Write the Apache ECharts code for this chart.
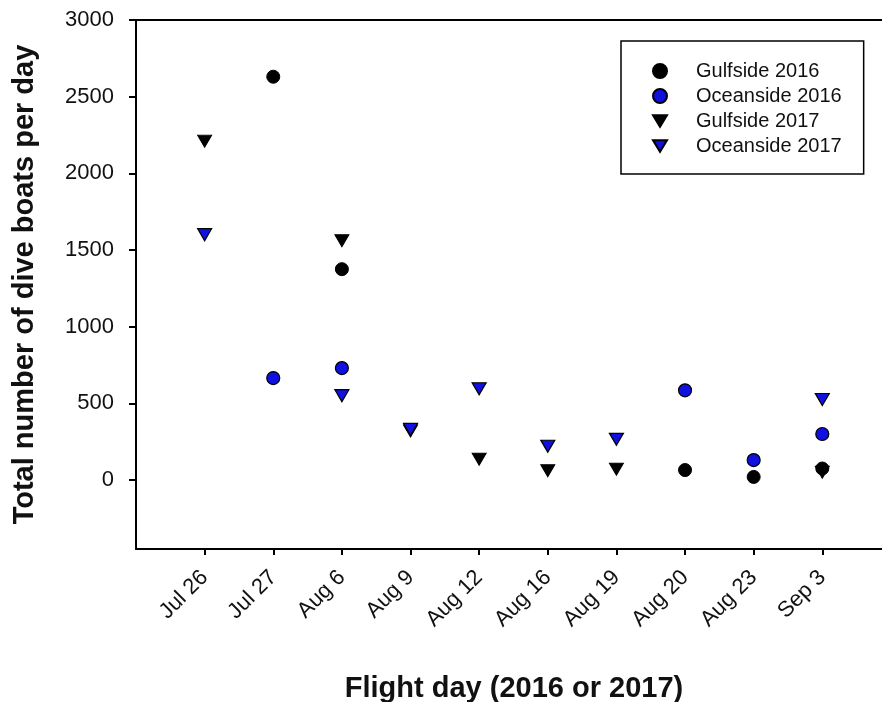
<!DOCTYPE html>
<html>
<head>
<meta charset="utf-8">
<script src="https://cdn.jsdelivr.net/npm/echarts@6/dist/echarts.min.js"></script>
<style>html,body{margin:0;padding:0;background:#fff;}#c{width:882px;height:702px;}</style>
</head>
<body>
<div id="c"></div>
<script>
const categories = ['Jul 26','Jul 27','Aug 6','Aug 9','Aug 12','Aug 16','Aug 19','Aug 20','Aug 23','Sep 3'];
const gulfside2016  = [null, 2630, 1375, null, null, null, null, 65, 20, 75];
const oceanside2016 = [null, 665, 730, null, null, null, null, 585, 130, 300];
const gulfside2017  = [2210, null, 1560, 320, 135, 60, 70, null, null, 50];
const oceanside2017 = [1600, null, 550, 330, 595, 220, 265, null, null, 525];
const yTicks = [0, 500, 1000, 1500, 2000, 2500, 3000];

function pts(arr){
  const out = [];
  arr.forEach((v,i)=>{ if(v!==null) out.push([i, v]); });
  return out;
}
const FONT = 'Liberation Sans, Arial, sans-serif';
const DOWN = 'path://M0,0 L12,0 L6,10 Z';
const BLUE = '#1010e0';
const catIdx = categories.map((c,i)=>i);

const chart = echarts.init(document.getElementById('c'), null, {renderer:'canvas'});
chart.setOption({
  backgroundColor: '#fff',
  animation: false,
  grid: {left:136, top:20, right:0, bottom:153, show:false, containLabel:false, outerBoundsMode:'none'},
  legend: {
    orient:'vertical', left:621, top:41,
    padding:[20,22,18,31], itemGap:5, itemWidth:14, itemHeight:14,
    borderColor:'#000', borderWidth:1.5, backgroundColor:'#fff',
    textStyle:{fontFamily:FONT, fontSize:20, color:'#111', padding:[0,0,0,24]},
    data:['Gulfside 2016','Oceanside 2016','Gulfside 2017','Oceanside 2017']
  },
  xAxis: [{
    type:'value', min:-1, max:9.87,
    splitLine:{show:false},
    axisLine:{show:true, onZero:false, lineStyle:{color:'#000', width:2}},
    axisTick:{show:true, length:6, lineStyle:{color:'#000', width:2}, customValues:catIdx},
    axisLabel:{customValues:catIdx, rotate:45, margin:25, fontFamily:FONT, fontSize:22, color:'#111',
      formatter:(v)=>categories[Math.round(v)] || ''},
    name:'Flight day (2016 or 2017)', nameLocation:'middle', nameGap:125,
    nameTextStyle:{fontFamily:FONT, fontSize:29, fontWeight:'bold', color:'#111', padding:[0,0,0,10]}
  },{
    type:'value', min:-1, max:9.87, position:'top',
    splitLine:{show:false},
    axisLine:{show:true, onZero:false, lineStyle:{color:'#000', width:2}},
    axisTick:{show:false}, axisLabel:{show:false}
  }],
  yAxis: {
    type:'value', min:-450, max:3000,
    splitLine:{show:false},
    axisLine:{show:true, onZero:false, lineStyle:{color:'#000', width:2}},
    axisTick:{show:true, length:7, lineStyle:{color:'#000', width:2}, customValues:yTicks},
    axisLabel:{customValues:yTicks, margin:22, fontFamily:FONT, fontSize:22, color:'#111',
      formatter:(v)=>String(v)},
    name:'Total number of dive boats per day', nameLocation:'middle', nameGap:97,
    nameTextStyle:{fontFamily:FONT, fontSize:29, fontWeight:'bold', color:'#111'}
  },
  series: [
    {name:'Gulfside 2016', type:'scatter', data:pts(gulfside2016), symbol:'circle', symbolSize:13,
      itemStyle:{color:'#000', borderColor:'#000', borderWidth:1, opacity:1}},
    {name:'Oceanside 2016', type:'scatter', data:pts(oceanside2016), symbol:'circle', symbolSize:13,
      itemStyle:{color:BLUE, borderColor:'#000', borderWidth:1.2, opacity:1}},
    {name:'Gulfside 2017', type:'scatter', data:pts(gulfside2017), symbol:DOWN, symbolSize:[14,12],
      itemStyle:{color:'#000', borderColor:'#000', borderWidth:1, opacity:1}},
    {name:'Oceanside 2017', type:'scatter', data:pts(oceanside2017), symbol:DOWN, symbolSize:[14,12],
      itemStyle:{color:BLUE, borderColor:'#000', borderWidth:1.2, opacity:1}}
  ]
});
</script>
</body>
</html>
